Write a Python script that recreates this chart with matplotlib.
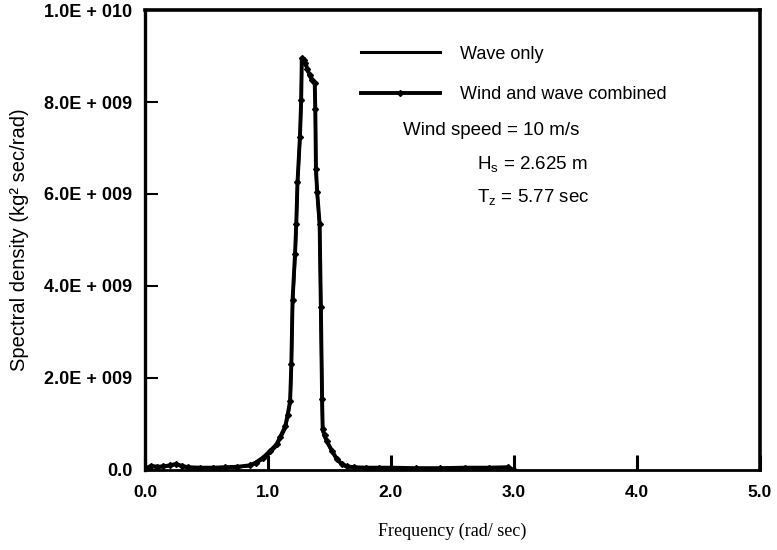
import matplotlib
matplotlib.use("Agg")
import matplotlib.pyplot as plt
from matplotlib.ticker import FixedLocator, FixedFormatter

# ---- data (spectral density in units of 1e9 kg^2 sec/rad) ----
freq = [0.0, 0.05, 0.1, 0.15, 0.2, 0.25, 0.3, 0.35, 0.45, 0.55, 0.65, 0.75,
        0.85, 0.90, 0.96, 1.02, 1.07, 1.10, 1.14, 1.16, 1.18, 1.19, 1.20,
        1.22, 1.23, 1.24, 1.26, 1.27, 1.275, 1.29, 1.305, 1.32, 1.34, 1.36,
        1.38, 1.385, 1.39, 1.40, 1.42, 1.43, 1.44, 1.445, 1.46, 1.48, 1.52,
        1.56, 1.60, 1.64, 1.70, 1.80, 1.90, 2.0, 2.2, 2.4, 2.6, 2.8, 2.95, 3.0]
wave_only = [0.02, 0.08, 0.06, 0.07, 0.09, 0.12, 0.08, 0.05, 0.04, 0.04, 0.05, 0.06,
             0.09, 0.14, 0.24, 0.38, 0.52, 0.68, 0.90, 1.15, 1.45, 2.2, 3.6,
             4.6, 5.3, 6.2, 7.2, 8.0, 8.9, 8.9, 8.82, 8.7, 8.55, 8.45,
             8.4, 7.8, 6.5, 6.0, 5.3, 3.5, 1.5, 0.85, 0.72, 0.6, 0.4,
             0.22, 0.12, 0.07, 0.05, 0.04, 0.04, 0.04, 0.03, 0.03, 0.04, 0.04, 0.05, 0.0]
wind_wave = [0.03, 0.09, 0.07, 0.08, 0.10, 0.13, 0.09, 0.06, 0.05, 0.05, 0.06, 0.07,
             0.10, 0.16, 0.27, 0.42, 0.56, 0.72, 0.95, 1.20, 1.50, 2.3, 3.7,
             4.7, 5.35, 6.25, 7.25, 8.05, 8.95, 8.92, 8.85, 8.72, 8.58, 8.47,
             8.42, 7.85, 6.55, 6.05, 5.35, 3.55, 1.55, 0.88, 0.75, 0.62, 0.42,
             0.24, 0.13, 0.08, 0.06, 0.05, 0.05, 0.05, 0.04, 0.04, 0.05, 0.05, 0.06, 0.0]

xticks = [0.0, 1.0, 2.0, 3.0, 4.0, 5.0]
xtick_labels = ["0.0", "1.0", "2.0", "3.0", "4.0", "5.0"]
yticks = [0.0, 2e9, 4e9, 6e9, 8e9, 1e10]
ytick_labels = ["0.0", "2.0E + 009", "4.0E + 009", "6.0E + 009", "8.0E + 009", "1.0E + 010"]

SANS = ["Liberation Sans", "DejaVu Sans"]
SERIF = ["Liberation Serif", "DejaVu Serif"]
plt.rcParams["font.family"] = SANS
plt.rcParams["mathtext.fontset"] = "custom"
plt.rcParams["mathtext.rm"] = "Liberation Sans"

fig = plt.figure(figsize=(7.77, 5.5), dpi=100)
ax = fig.add_axes([0.1866, 0.1455, 0.978 - 0.1866, 0.9818 - 0.1455])

scale = 1e9
ax.plot(freq, [v * scale for v in wave_only], color="black", lw=2.2,
        label="Wave only", zorder=3)
ax.plot(freq, [v * scale for v in wind_wave], color="black", lw=2.8,
        marker="D", markersize=3, label="Wind and wave combined", zorder=2)

ax.set_xlim(0, 5)
ax.set_ylim(0, 1e10)
ax.xaxis.set_major_locator(FixedLocator(xticks))
ax.xaxis.set_major_formatter(FixedFormatter(xtick_labels))
ax.yaxis.set_major_locator(FixedLocator(yticks))
ax.yaxis.set_major_formatter(FixedFormatter(ytick_labels))

ax.tick_params(axis="x", direction="in", length=11, width=2.2, pad=11,
               labelsize=12.5)
ax.tick_params(axis="y", direction="in", length=9, width=1.5, pad=9,
               labelsize=13)
for lbl in ax.get_xticklabels() + ax.get_yticklabels():
    lbl.set_fontweight("bold")

for side, w in [("top", 2.6), ("left", 2.4), ("right", 2.6), ("bottom", 2.0)]:
    ax.spines[side].set_linewidth(w)

ax.set_xlabel("Frequency (rad/ sec)", family=SERIF, fontsize=13,
              labelpad=16)
ax.set_ylabel("Spectral density (kg² sec/rad)", fontsize=14.5, labelpad=11)

leg = ax.legend(loc="upper left", bbox_to_anchor=(0.33, 0.95), frameon=False,
                fontsize=13, handlelength=4.4, handletextpad=1.1,
                labelspacing=1.3, borderpad=0.2)

ax.text(0.42, 0.738, "Wind speed = 10 m/s", transform=ax.transAxes,
        fontsize=13.5, va="center", ha="left")
ax.text(0.54, 0.664, r"H$_\mathregular{s}$ = 2.625 m", transform=ax.transAxes,
        fontsize=13.5, va="center", ha="left")
ax.text(0.54, 0.592, r"T$_\mathregular{z}$ = 5.77 sec", transform=ax.transAxes,
        fontsize=13.5, va="center", ha="left")

fig.savefig("out.png", dpi=100)
